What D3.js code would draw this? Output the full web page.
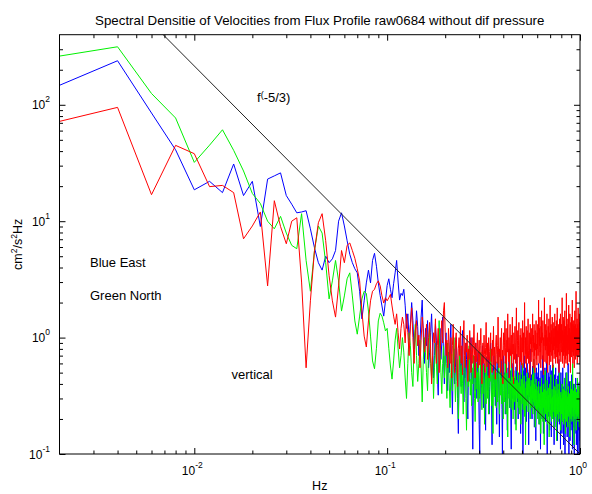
<!DOCTYPE html>
<html><head><meta charset="utf-8">
<script src="https://cdn.jsdelivr.net/npm/d3@7"></script>
<style>
body{margin:0;background:#fff}
svg text{font-family:"Liberation Sans",Arial,Helvetica,sans-serif;fill:#000}
</style>
</head><body>
<svg id="chart" width="592" height="494"></svg>
<script>
const titleText = "Spectral Densitie of Velocities from Flux Profile raw0684 without dif pressure";
const xLabel = "Hz";
const df = 0.002; // frequency resolution (Hz); point k is at k*df
const xMajor = [0.01, 0.1, 1];
const xMajorExp = ["-2", "-1", "0"];
const yMajor = [0.1, 1, 10, 100];
const yMajorExp = ["-1", "0", "1", "2"];
const annotations = ["Blue East", "Green North", "vertical"];

const east = [
147,239,85,41,18.6,22,17.6,31,16.6,22,
9.0,23,24.5,26,16.6,14,11.8,12,12.3,8.6,
5.9,4.4,3.8,5.0,4.4,4.75,5.6,10,11.8,9.1,
6.8,5.2,4.4,3.9,3.6,2.5,1.45,2.07,2.95,3.8,
2.95,4.6,5.3,4.1,2.95,2.3,1.87,1.53,2.07,2.8,
3.2,2.6,2.2,2.9,3.6,4.6,3.0,2.1,2.4,2.3,
2.6,1.9,1.2,1.6,.95,1.3,2.0,1.4,.8,1.1,
1.7,1.25,.7,.9,1.5,2.1,1.0,.6,1.2,.85,
1.4,.55,.75,1.1,1.6,.9,.45,.7,1.3,.95,
.5,.32,.8,1.2,.65,.9,1.5,.7,.4,.85,
1.1,.6,.35,.75,.5,.9,1.3,.45,.22,.6,
.8,.4,.55,1.0,.7,.3,.15,.5,.85,.6,
.38,.7,1.15,.5,.28,.6,.45,.9,.65,.32,
.2,.55,.8,.42,.6,1.0,.5,.26,.11,.4,
.7,.55,.35,.9,.48,.3,.62,.75,.4,.18,
.1,.45,.7,.33,.55,.85,.4,.25,.6,.5,
.3,.16,.42,.68,.52,.35,.8,.45,.22,.38,
.6,.9,.47,.28,.12,.36,.55,.42,.7,.33,
.5,.26,.62,.4,.18,.35,.58,.75,.44,.3,
.14,.4,.52,.36,.65,.48,.24,.1,.38,.55,
.7,.42,.3,.5,.22,.35,.6,.45,.28,.16,
.4,.55,.33,.8,.48,.25,.37,.52,.2,.11,
.34,.6,.44,.3,.5,.68,.39,.24,.45,.32,
.18,.42,.56,.35,.72,.46,.28,.4,.2,.33,
.5,.38,.26,.62,.43,.15,.3,.48,.36,.58,
.4,.27,.1,.35,.52,.44,.7,.32,.23,.4,
.55,.3,.46,.19,.37,.6,.42,.28,.5,.34,
.12,.38,.53,.31,.45,.8,.4,.25,.36,.48,
.3,.2,.44,.57,.35,.26,.42,.65,.38,.17,
.33,.5,.29,.41,.13,.36,.55,.4,.27,.46,
.35,.22,.5,.31,.6,.28,.18,.4,.33,.45,
.25,.11,.3,.52,.38,.27,.42,.2,.34,.7,
.4,.26,.15,.33,.48,.3,.22,.37,.55,.29,
.19,.35,.44,.28,.62,.36,.24,.1,.3,.41,
.27,.5,.33,.21,.38,.46,.3,.16,.35,.58,
.32,.24,.42,.29,.14,.37,.52,.3,.22,.4,
.6,.34,.26,.45,.2,.31,.12,.36,.48,.28,
.39,.23,.33,.55,.3,.17,.4,.27,.44,.35,
.25,.13,.32,.47,.29,.38,.21,.34,.65,.3,
.18,.36,.27,.42,.24,.11,.33,.5,.28,.37,
.22,.3,.15,.4,.26,.19,.55,.28,.2,.33,
.12,.25,.38,.21,.3,.45,.24,.09,.27,.35,
.2,.32,.5,.26,.17,.29,.4,.23,.14,.3,
.36,.22,.28,.6,.31,.19,.25,.08,.24,.34,
.27,.42,.2,.13,.3,.23,.37,.28,.16,.26,
.33,.21,.48,.25,.18,.3,.11,.27,.35,.22,
.29,.4,.17,.24,.32,.2,.09,.26,.38,.23,
.15,.28,.34,.21,.45,.25,.19,.3,.12,.27,
.22,.36,.18,.26,.1,.3,.24,.41,.2,.28,
.16,.25,.33,.08,.22,.3,.19,.27,.13,.24
];

const north = [
262,315,125,77,32,45,61,40.6,27,17.3,
14.2,10,8.6,11,7.9,6.2,5.8,11.6,4.6,2.5,
5.6,9.1,7.9,4.4,2.15,3.07,4.6,3.07,1.69,2.28,
3.2,3.6,2.28,1.39,1.07,1.53,2.15,2.5,2.4,1.69,
1.03,.63,.54,.81,1.39,1.62,1.53,1.34,1.14,1.2,
.81,.57,.44,.63,.95,1.2,.8,.55,.7,1.0,
.75,.45,.3,.6,1.1,.85,.5,.38,.9,1.3,
.7,.42,.6,.95,.55,.28,.65,1.0,.75,.5,
.35,.8,1.2,.6,.45,.7,.3,.55,.9,.62,
.4,.75,1.4,.8,.5,.33,.6,.85,.45,.7,
.55,.3,.9,.62,.4,.25,.5,.72,.35,.6,
1.0,.48,.28,.42,.65,.38,.2,.5,.8,.44,
.33,.58,.4,.22,.47,.7,.52,.3,.16,.45,
.6,.38,.85,.5,.32,.44,.26,.55,.4,.7,
.48,.3,.19,.42,.6,.36,.5,.28,.65,.4,
.3,.52,.75,.38,.24,.45,.33,.58,.42,.18,
.36,.5,.27,.62,.4,.3,.47,.22,.35,.55,
.42,.8,.37,.26,.48,.33,.15,.4,.52,.31,
.44,.6,.35,.25,.5,.38,.28,.43,.7,.34,
.22,.4,.55,.32,.45,.27,.38,.6,.3,.2,
.35,.48,.28,.4,.62,.3,.22,.37,.5,.26,
.14,.33,.45,.3,.55,.38,.25,.42,.29,.7,
.36,.24,.31,.46,.2,.34,.52,.28,.4,.32,
.47,.27,.16,.35,.43,.3,.58,.37,.25,.33,
.41,.22,.36,.5,.29,.38,.18,.32,.44,.27,
.35,.6,.3,.24,.4,.33,.47,.21,.37,.28,
.12,.3,.42,.35,.26,.5,.32,.4,.23,.36,
.45,.29,.34,.55,.31,.2,.38,.27,.43,.33,
.25,.39,.3,.48,.22,.35,.28,.65,.34,.26,
.4,.31,.17,.36,.29,.44,.32,.24,.38,.3,
.28,.2,.35,.25,.42,.3,.18,.27,.33,.22,
.38,.26,.15,.3,.24,.45,.29,.21,.34,.27,
.19,.32,.4,.25,.3,.12,.28,.36,.23,.52,
.3,.22,.27,.35,.2,.31,.26,.43,.24,.18,
.29,.37,.23,.32,.26,.14,.3,.4,.25,.21,
.33,.27,.48,.22,.3,.19,.28,.36,.24,.31,
.2,.26,.34,.58,.29,.23,.32,.17,.27,.38,
.25,.3,.21,.35,.28,.44,.24,.13,.3,.26,
.33,.22,.29,.4,.25,.19,.31,.27,.36,.23,
.3,.5,.26,.2,.32,.28,.16,.34,.24,.29,
.22,.3,.26,.4,.19,.28,.33,.21,.25,.36,
.18,.27,.31,.24,.45,.29,.2,.26,.32,.15,
.28,.35,.23,.3,.19,.27,.5,.25,.22,.31,
.26,.17,.29,.34,.24,.38,.21,.28,.3,.23,
.33,.25,.14,.27,.31,.22,.42,.26,.2,.29,
.24,.36,.28,.19,.3,.25,.33,.6,.27,.21,
.3,.23,.35,.26,.12,.28,.32,.24,.4,.27,
.2,.29,.25,.37,.3,.22,.27,.16,.31,.26,
.34,.24,.29,.21,.45,.28,.23,.3,.19,.26,
.32,.25,.38,.22,.28,.17,.3,.26,.35,.42
];

const vertical = [
72,95,16.9,44.8,38,19.8,20.3,17.6,7.06,9.1,
12,2.78,15,9,6.4,10,10.7,3.0,.55,2.07,
5.6,9.7,11.6,6.8,3.4,2.07,1.5,2.78,5.6,4.4,
6.2,6.5,5.6,4.8,3.9,3.07,1.69,1.03,.83,1.39,
2.07,2.5,2.6,2.9,3.07,2.78,2.28,1.98,2.2,2.07,
2.2,2.35,1.87,1.53,1.3,1.6,1.1,.8,1.2,1.5,
1.3,.9,1.6,1.1,.7,1.25,1.8,1.0,.6,1.15,
1.4,.85,1.05,.55,.95,1.5,1.2,.75,.9,1.3,
.65,1.0,1.35,.8,.4,.7,1.1,.9,1.45,.6,
.85,1.2,.5,.75,1.0,1.4,.9,1.7,2.0,1.1,
.7,.95,.55,1.2,.8,.6,1.0,.45,.85,1.3,
.75,.5,.9,1.1,.65,.38,.8,1.0,.7,1.25,
.6,.85,.48,.95,1.4,.7,.55,.9,.75,1.05,
.42,.8,.65,1.15,.88,.5,.72,1.0,.6,.85,
1.3,.7,.45,.9,.62,.8,1.1,.55,.75,.95,
.58,.85,1.2,.68,.4,.78,.9,.6,1.05,.72,
.5,.82,1.35,.7,.56,.9,.65,1.0,.45,.76,
.88,1.1,.62,.8,.5,.95,.7,1.25,.58,.83,
.66,.44,.9,1.05,.72,.6,.85,1.5,.75,.55,
.8,.68,1.0,.5,.9,1.2,.63,.78,.4,.86,
1.1,.7,.9,1.4,.6,.82,1.2,.5,.95,.75,
1.6,.85,.62,1.0,.45,.9,1.3,.7,.8,1.05,
.55,.95,1.5,.72,.88,.4,1.1,.78,.65,1.25,
.9,.6,1.0,1.8,.75,.52,.95,1.15,.68,.85,
1.35,.7,.48,.9,1.05,.62,1.2,.8,.58,1.0,
.75,1.4,.88,.55,1.1,.7,.95,2.0,.8,.6,
1.0,.72,1.25,.5,.9,1.15,.66,.85,1.45,.78,
.6,.95,1.1,.7,.45,1.3,.88,1.0,.62,.8,
1.2,.75,.92,1.6,.68,.55,1.05,.82,1.3,.7,
.9,.5,1.15,.78,1.0,1.4,.65,.88,.58,1.1,
.8,1.3,.7,1.05,2.1,.9,.6,1.2,.85,1.5,
.75,1.0,.55,1.25,.9,1.7,.8,.65,1.1,.95,
1.4,.7,.48,1.0,.85,1.2,2.2,.9,.62,1.05,
.78,1.3,.95,.6,1.15,.85,1.6,.72,1.0,.5,
.9,1.25,.7,1.05,1.45,.8,.58,1.1,.92,1.9,
.75,1.0,.62,1.3,.88,1.15,.7,.95,1.5,.8,
.55,1.05,1.35,.78,.9,1.2,.66,1.0,.85,1.6,
.72,.95,1.25,.6,1.1,.82,1.4,.9,.68,1.05,
1.8,.8,.6,1.15,.9,1.3,.75,1.0,.5,1.2,
.88,1.45,.7,1.05,.95,1.6,.8,.62,1.1,.9,
1.3,.75,1.0,2.2,.85,.6,1.15,.95,1.5,.7,
1.05,.8,1.4,.55,.9,1.2,1.7,.75,1.0,.65,
1.25,.88,.6,1.1,2.4,.92,.7,1.3,.82,1.05,
.58,.95,1.45,.78,1.15,.9,1.9,.72,1.0,.62,
1.2,.85,1.6,.7,1.05,.5,.95,1.35,.8,1.1,
.68,1.5,.9,1.2,.75,2.1,.85,1.0,.6,1.3,
.92,1.15,.7,1.4,.82,1.05,.55,1.25,.95,1.7,
.78,1.0,1.3,.65,1.1,.88,2.5,.8,1.2,.7,
1.05,.9,1.45,.6,1.15,.85,1.3,.72,1.8,.95,
.8,1.2,.68,1.0,1.6,.9,.75,1.35,.85,.6
];

// reference slope line f^(-5/3), passing 0.1 at 1 Hz
const refExponent = -5/3;
const refAtOneHz = 0.1;

const W = 592, H = 494;
const m = {left: 59.5, right: 580, top: 34.7, bottom: 454};
const svg = d3.select("#chart");
const x = d3.scaleLog().domain([0.002, 1]).range([m.left, m.right]);
const y = d3.scaleLog().domain([0.1, 400]).range([m.bottom, m.top]);

svg.append("defs").append("clipPath").attr("id","clip")
  .append("rect").attr("x", m.left).attr("y", m.top)
  .attr("width", m.right - m.left).attr("height", m.bottom - m.top);

const plot = svg.append("g").attr("clip-path","url(#clip)");
const line = d3.line().x(d => x(d[0])).y(d => y(d[1]));
const toPts = arr => arr.map((v, i) => [(i + 1) * df, v]);

const series = [
  {data: east, color: "#0000ff"},
  {data: north, color: "#00f000"},
  {data: vertical, color: "#ff0000"}
];
series.forEach(s => {
  plot.append("path").attr("d", line(toPts(s.data)))
    .attr("fill","none").attr("stroke", s.color).attr("stroke-width", 1);
});

const refF = [0.002, 1];
plot.append("path")
  .attr("d", line(refF.map(f => [f, refAtOneHz * Math.pow(f, refExponent)])))
  .attr("fill","none").attr("stroke","#222").attr("stroke-width",1);

// minor tick values
const xMinor = [], yMinor = [];
[0.001, 0.01, 0.1].forEach(d => { for (let i = 2; i <= 9; i++) { const v = d * i; if (v > 0.0021 && v < 0.999) xMinor.push(v); } });
[0.1, 1, 10, 100].forEach(d => { for (let i = 2; i <= 9; i++) { const v = d * i; if (v < 399) yMinor.push(v); } });

function addAxis(gen, scale, vals, size, tr) {
  svg.append("g").attr("transform", tr)
    .call(gen(scale).tickValues(vals).tickSize(-size).tickSizeOuter(0).tickFormat(""))
    .call(g => g.select(".domain").remove())
    .call(g => g.selectAll("line").attr("stroke","#000"));
}
addAxis(d3.axisBottom, x, xMajor, 6, `translate(0,${m.bottom})`);
addAxis(d3.axisBottom, x, xMinor, 3.5, `translate(0,${m.bottom})`);
addAxis(d3.axisTop, x, xMajor, 6, `translate(0,${m.top})`);
addAxis(d3.axisTop, x, xMinor, 3.5, `translate(0,${m.top})`);
addAxis(d3.axisLeft, y, yMajor, 6, `translate(${m.left},0)`);
addAxis(d3.axisLeft, y, yMinor, 3.5, `translate(${m.left},0)`);
addAxis(d3.axisRight, y, yMajor, 6, `translate(${m.right},0)`);
addAxis(d3.axisRight, y, yMinor, 3.5, `translate(${m.right},0)`);

svg.append("rect").attr("x", m.left).attr("y", m.top)
  .attr("width", m.right - m.left).attr("height", m.bottom - m.top)
  .attr("fill","none").attr("stroke","#000").attr("stroke-width",1);

// tick labels
xMajor.forEach((v, i) => {
  const t = svg.append("text").attr("x", x(v) - 2).attr("y", 475)
    .attr("text-anchor","middle").attr("font-size", 12);
  t.append("tspan").text("10");
  t.append("tspan").attr("dy", -7).attr("font-size", 8.5).text(xMajorExp[i]);
});
yMajor.forEach((v, i) => {
  const t = svg.append("text").attr("x", 50).attr("y", y(v) + 4.5)
    .attr("text-anchor","end").attr("font-size", 12);
  t.append("tspan").text("10");
  t.append("tspan").attr("dy", -7).attr("font-size", 8.5).text(yMajorExp[i]);
});

// title and axis labels
svg.append("text").attr("x", (m.left + m.right) / 2).attr("y", 25)
  .attr("text-anchor","middle").attr("font-size", 13.3).text(titleText);
svg.append("text").attr("x", (m.left + m.right) / 2).attr("y", 490)
  .attr("text-anchor","middle").attr("font-size", 12.5).text(xLabel);
const yl = svg.append("text").attr("transform", `translate(22,${(m.top + m.bottom) / 2}) rotate(-90)`)
  .attr("text-anchor","middle").attr("font-size", 12.5);
yl.append("tspan").text("cm");
yl.append("tspan").attr("dy", -5).attr("font-size", 8.5).text("2");
yl.append("tspan").attr("dy", 5).text("/s");
yl.append("tspan").attr("dy", -5).attr("font-size", 8.5).text("2");
yl.append("tspan").attr("dy", 5).text("Hz");

// annotations
svg.append("text").attr("x", 90).attr("y", 267).attr("font-size", 13).text(annotations[0]);
svg.append("text").attr("x", 90).attr("y", 299.5).attr("font-size", 13).text(annotations[1]);
svg.append("text").attr("x", 231.5).attr("y", 378.5).attr("font-size", 13).text(annotations[2]);
const ft = svg.append("text").attr("x", 257).attr("y", 102).attr("font-size", 13);
ft.append("tspan").text("f");
ft.append("tspan").attr("dy", -4).attr("font-size", 9).text("(");
ft.append("tspan").attr("dy", 4).text("-5/3)");
</script>
</body></html>
